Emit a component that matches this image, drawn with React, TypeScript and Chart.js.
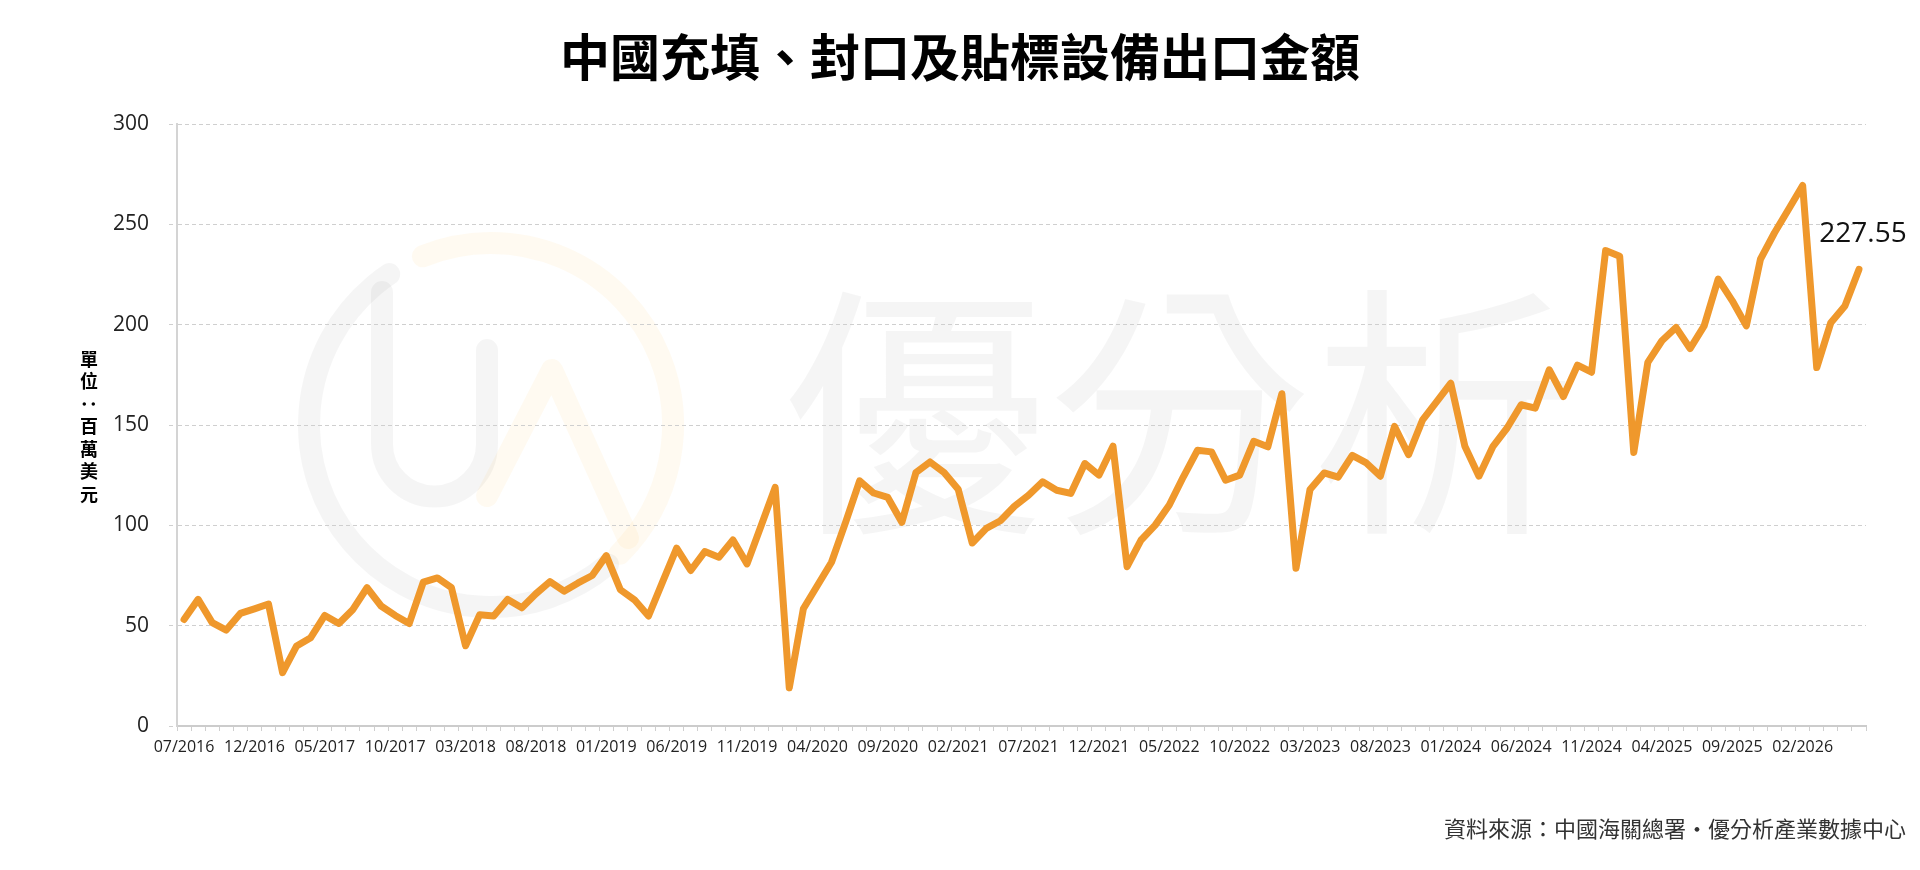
import React, { useEffect, useRef } from 'react';
import { Chart, registerables } from 'chart.js';

Chart.register(...registerables);

const TITLE = '中國充填、封口及貼標設備出口金額';
const Y_TITLE_CHARS = ['單', '位', '：', '百', '萬', '美', '元'];
const SOURCE = '資料來源：中國海關總署・優分析產業數據中心';
const WATERMARK = '優分析';
const LAST_LABEL = '227.55';

const months: string[] = [
  '07/2016', '08/2016', '09/2016', '10/2016', '11/2016', '12/2016',
  '01/2017', '02/2017', '03/2017', '04/2017', '05/2017', '06/2017', '07/2017', '08/2017', '09/2017', '10/2017', '11/2017', '12/2017',
  '01/2018', '02/2018', '03/2018', '04/2018', '05/2018', '06/2018', '07/2018', '08/2018', '09/2018', '10/2018', '11/2018', '12/2018',
  '01/2019', '02/2019', '03/2019', '04/2019', '05/2019', '06/2019', '07/2019', '08/2019', '09/2019', '10/2019', '11/2019', '12/2019',
  '01/2020', '02/2020', '03/2020', '04/2020', '05/2020', '06/2020', '07/2020', '08/2020', '09/2020', '10/2020', '11/2020', '12/2020',
  '01/2021', '02/2021', '03/2021', '04/2021', '05/2021', '06/2021', '07/2021', '08/2021', '09/2021', '10/2021', '11/2021', '12/2021',
  '01/2022', '02/2022', '03/2022', '04/2022', '05/2022', '06/2022', '07/2022', '08/2022', '09/2022', '10/2022', '11/2022', '12/2022',
  '01/2023', '02/2023', '03/2023', '04/2023', '05/2023', '06/2023', '07/2023', '08/2023', '09/2023', '10/2023', '11/2023', '12/2023',
  '01/2024', '02/2024', '03/2024', '04/2024', '05/2024', '06/2024', '07/2024', '08/2024', '09/2024', '10/2024', '11/2024', '12/2024',
  '01/2025', '02/2025', '03/2025', '04/2025', '05/2025', '06/2025', '07/2025', '08/2025', '09/2025', '10/2025', '11/2025', '12/2025',
  '01/2026', '02/2026', '03/2026', '04/2026', '05/2026', '06/2026',
];

const exportValues: number[] = [
  53.1, 63.1, 51.5, 47.8, 56.1, 58.4, 60.8, 26.6, 39.9, 44.0,
  55.1, 51.1, 58.1, 68.9, 59.8, 55.1, 51.1, 71.7, 73.8, 68.9,
  40.0, 55.4, 54.8, 63.1, 58.9, 65.9, 72.0, 67.2, 71.3, 75.0,
  84.9, 67.9, 62.9, 54.8, 71.8, 88.6, 77.5, 86.9, 84.1, 92.7,
  80.8, 99.8, 118.9, 19.0, 58.4, 70.0, 81.6, 101.5, 122.2, 116.1,
  113.9, 101.5, 126.3, 131.6, 126.3, 118.0, 91.2, 98.5, 102.3, 109.5,
  115.0, 121.7, 117.5, 115.9, 130.8, 125.0, 139.4, 79.4, 92.7, 100.1,
  110.1, 124.2, 137.4, 136.6, 122.5, 125.0, 141.9, 139.1, 165.6, 78.6,
  117.9, 126.1, 124.0, 134.9, 131.1, 124.5, 149.3, 135.2, 152.6, 161.7,
  170.8, 139.4, 124.5, 139.4, 148.5, 160.1, 158.4, 177.5, 164.2, 179.8,
  176.3, 236.9, 234.1, 136.3, 181.2, 192.0, 198.6, 188.1, 199.4, 222.7,
  211.9, 199.4, 232.6, 245.8, 257.5, 269.4, 178.6, 201.0, 209.3, 227.55,
];

const Y_MIN = 0;
const Y_MAX = 300;
const Y_STEP = 50;
const LABEL_EVERY = 5;

const CJK = '"Noto Sans CJK TC", "Noto Sans CJK SC", sans-serif';
const NUM = '"Open Sans", "Noto Sans", sans-serif';
const LINE_COLOR = '#EF982C';

const deg = (d: number) => (d * Math.PI) / 180;

const decorPlugin = {
  id: 'decor',
  beforeDraw(chart: any) {
    const ctx: CanvasRenderingContext2D = chart.ctx;
    ctx.save();
    ctx.fillStyle = '#ffffff';
    ctx.fillRect(0, 0, chart.width, chart.height);

    // faint logo watermark
    const gray = 'rgba(0,0,0,0.04)';
    const yellow = 'rgba(250,185,50,0.07)';
    const cx = 491, cy = 425, r = 182;
    ctx.lineWidth = 22;
    ctx.lineCap = 'round';
    ctx.lineJoin = 'round';
    ctx.strokeStyle = gray;
    ctx.beginPath();
    ctx.arc(cx, cy, r, deg(50), deg(236));
    ctx.stroke();
    ctx.strokeStyle = yellow;
    ctx.beginPath();
    ctx.arc(cx, cy, r, deg(248), deg(405));
    ctx.stroke();
    // U
    ctx.strokeStyle = gray;
    ctx.beginPath();
    ctx.moveTo(382, 292);
    ctx.lineTo(382, 444);
    ctx.arc(434.5, 444, 52.5, Math.PI, 0, true);
    ctx.lineTo(487, 350);
    ctx.stroke();
    // A
    ctx.strokeStyle = yellow;
    ctx.beginPath();
    ctx.moveTo(487, 496);
    ctx.lineTo(552, 370);
    ctx.lineTo(628, 538);
    ctx.stroke();

    // faint text watermark
    ctx.fillStyle = 'rgba(0,0,0,0.04)';
    ctx.font = `265px ${CJK}`;
    ctx.textAlign = 'left';
    ctx.textBaseline = 'middle';
    ctx.fillText(WATERMARK, 782, 412);
    ctx.restore();
  },
  afterDraw(chart: any) {
    const ctx: CanvasRenderingContext2D = chart.ctx;
    ctx.save();
    // title
    ctx.fillStyle = '#000';
    ctx.font = `bold 50px ${CJK}`;
    ctx.textAlign = 'center';
    ctx.textBaseline = 'middle';
    ctx.fillText(TITLE, 960, 57);

    // vertical y title
    ctx.font = `bold 18px ${CJK}`;
    Y_TITLE_CHARS.forEach((ch, i) => {
      const y = 359 + i * 22.5;
      if (ch === '：') {
        ctx.save();
        ctx.translate(89, y);
        ctx.rotate(Math.PI / 2);
        ctx.fillText(ch, 0, 0);
        ctx.restore();
      } else {
        ctx.fillText(ch, 89, y);
      }
    });

    // source
    ctx.fillStyle = '#333';
    ctx.font = `22px ${CJK}`;
    ctx.textAlign = 'right';
    ctx.fillText(SOURCE, 1906, 829);

    // last value label
    const meta = chart.getDatasetMeta(0);
    const pt = meta.data[meta.data.length - 1];
    if (pt) {
      ctx.fillStyle = '#111';
      ctx.font = `28px ${NUM}`;
      ctx.textAlign = 'center';
      ctx.fillText(LAST_LABEL, pt.x + 4, pt.y - 35);
    }
    ctx.restore();
  },
};

export default function App() {
  const ref = useRef<HTMLCanvasElement>(null);

  useEffect(() => {
    const canvas = ref.current;
    if (!canvas) return;
    const chart = new Chart(canvas, {
      type: 'line',
      data: {
        labels: months,
        datasets: [
          {
            data: exportValues,
            borderColor: LINE_COLOR,
            backgroundColor: LINE_COLOR,
            borderWidth: 7,
            pointRadius: 0,
            pointHoverRadius: 0,
            tension: 0,
            fill: false,
            borderJoinStyle: 'round',
            borderCapStyle: 'round',
          },
        ],
      },
      options: {
        animation: false,
        responsive: false,
        maintainAspectRatio: false,
        devicePixelRatio: 1,
        layout: { padding: { top: 124, right: 54, left: 0, bottom: 0 } },
        plugins: {
          legend: { display: false },
          title: { display: false },
          tooltip: { enabled: false },
        },
        scales: {
          x: {
            type: 'category',
            offset: true,
            grid: {
              offset: true,
              drawOnChartArea: false,
              drawTicks: true,
              tickLength: 5,
              color: '#cfcfcf',
              lineWidth: 1,
            },
            border: { display: true, color: '#cccccc', width: 2 },
            ticks: {
              autoSkip: false,
              maxRotation: 0,
              minRotation: 0,
              padding: 7,
              color: '#222',
              font: { family: NUM, size: 16 },
              callback: (_v: any, i: number) => (i % LABEL_EVERY === 0 ? months[i] : ''),
            },
            afterFit: (scale: any) => {
              scale.height = 144;
            },
          },
          y: {
            min: Y_MIN,
            max: Y_MAX,
            grid: {
              color: '#cfcfcf',
              lineWidth: 1,
              drawTicks: true,
              tickLength: 8,
              tickColor: '#cfcfcf',
              tickBorderDash: [4, 3],
            },
            border: { display: true, color: '#d4d4d4', width: 2, dash: [4, 3] },
            ticks: {
              stepSize: Y_STEP,
              padding: 20,
              color: '#222',
              font: { family: NUM, size: 21 },
            },
            afterFit: (scale: any) => {
              scale.width = 177;
            },
          },
        },
      },
      plugins: [decorPlugin],
    } as any);
    return () => chart.destroy();
  }, []);

  return (
    <div style={{ position: 'fixed', left: 0, top: 0, width: 1920, height: 870, background: '#fff' }}>
      <canvas ref={ref} width={1920} height={870} style={{ display: 'block', width: 1920, height: 870 }} />
    </div>
  );
}
